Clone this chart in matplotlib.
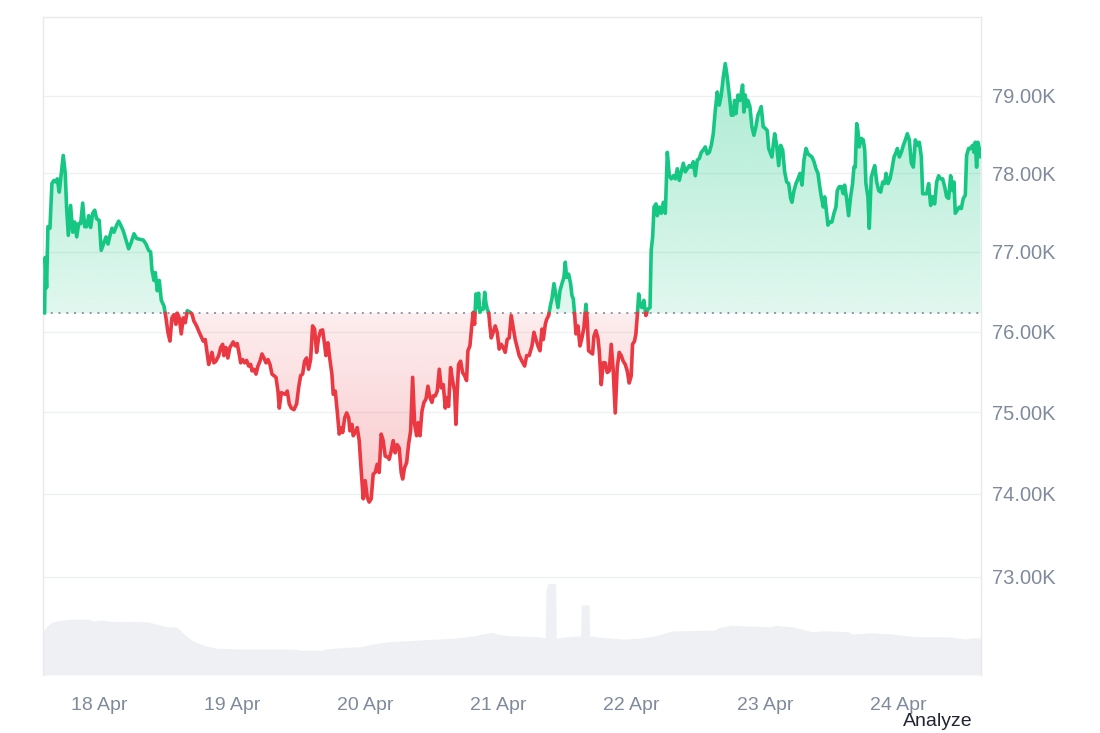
import numpy as np
import matplotlib
matplotlib.use("Agg")
import matplotlib.pyplot as plt
from matplotlib.path import Path
from matplotlib.ticker import FixedLocator, FuncFormatter, NullLocator
from matplotlib.colors import to_rgb

plt.rcParams['font.family'] = ['Liberation Sans', 'DejaVu Sans']

# ---------------- data ----------------
# time as fractional day of April, price in thousands USD
days = [
    17.592, 17.597, 17.607, 17.617, 17.632, 17.647, 17.662, 17.677, 17.687, 17.702,
    17.717, 17.732, 17.747, 17.757, 17.770, 17.787, 17.803, 17.818, 17.833, 17.848,
    17.863, 17.878, 17.893, 17.908, 17.923, 17.938, 17.953, 17.968, 17.983, 18.002,
    18.017, 18.038, 18.053, 18.068, 18.083, 18.098, 18.113, 18.133, 18.148, 18.163,
    18.182, 18.203, 18.223, 18.242, 18.263, 18.283, 18.308, 18.333, 18.353, 18.373,
    18.388, 18.398, 18.413, 18.423, 18.438, 18.453, 18.468, 18.488, 18.503, 18.518,
    18.533, 18.548, 18.563, 18.578, 18.588, 18.603, 18.618, 18.633, 18.648, 18.663,
    18.678, 18.698, 18.713, 18.733, 18.753,
    18.783, 18.798, 18.813, 18.824, 18.839, 18.848, 18.863, 18.878, 18.899, 18.914,
    18.929, 18.938, 18.953, 18.968, 18.983, 18.998, 19.008, 19.023, 19.038, 19.053,
    19.064, 19.079, 19.094, 19.109, 19.124, 19.139, 19.149, 19.164, 19.179, 19.194,
    19.209, 19.224, 19.239, 19.254, 19.269, 19.284, 19.299, 19.314, 19.329, 19.344,
    19.354, 19.369, 19.384, 19.399, 19.414, 19.429, 19.444, 19.464, 19.484, 19.499,
    19.514, 19.529, 19.544, 19.559, 19.574, 19.589, 19.604, 19.619, 19.634, 19.649,
    19.664, 19.679, 19.694, 19.704, 19.719, 19.734, 19.749, 19.759, 19.774, 19.789,
    19.804, 19.819, 19.830, 19.845, 19.860, 19.875, 19.884, 19.899, 19.909, 19.924,
    19.939, 19.954, 19.969, 19.984, 19.999, 20.014, 20.029, 20.044, 20.059, 20.074,
    20.089, 20.104, 20.119, 20.134, 20.149, 20.175,
    20.179, 20.194, 20.209, 20.224, 20.239, 20.254, 20.269, 20.280, 20.295, 20.310,
    20.325, 20.340, 20.355, 20.370, 20.385, 20.395, 20.410, 20.425, 20.440, 20.455,
    20.470, 20.485, 20.500, 20.510, 20.525, 20.540, 20.555, 20.570, 20.585, 20.600,
    20.610, 20.625, 20.640, 20.655, 20.670, 20.680, 20.690, 20.700, 20.715, 20.730,
    20.745, 20.760, 20.770, 20.785, 20.800, 20.810, 20.820, 20.830, 20.840, 20.850,
    20.860, 20.870, 20.885, 20.896, 20.905, 20.915, 20.926, 20.935, 20.945, 20.960,
    20.975, 20.990, 21.005, 21.020, 21.035, 21.050, 21.065, 21.080, 21.095, 21.110,
    21.125, 21.140, 21.155, 21.176, 21.196, 21.211, 21.230, 21.251, 21.266, 21.281,
    21.296, 21.311, 21.326, 21.336, 21.351, 21.361, 21.376, 21.391,
    21.401, 21.416, 21.431, 21.446, 21.461, 21.476, 21.491, 21.501, 21.511, 21.526,
    21.541, 21.551, 21.561, 21.571, 21.581, 21.596, 21.611, 21.626, 21.641, 21.656,
    21.666, 21.676, 21.691, 21.706, 21.716, 21.731, 21.746, 21.756, 21.771, 21.786,
    21.801, 21.816, 21.831, 21.846, 21.861, 21.876, 21.891, 21.906, 21.921, 21.936,
    21.951, 21.966, 21.981, 21.996, 22.006, 22.021, 22.031, 22.041, 22.052, 22.061,
    22.076, 22.091, 22.106, 22.121, 22.137, 22.146, 22.157, 22.167, 22.182, 22.192,
    22.207, 22.222, 22.237, 22.252, 22.267, 22.282, 22.297, 22.312, 22.327, 22.342,
    22.357, 22.372, 22.387, 22.402, 22.417, 22.432, 22.447, 22.462, 22.477, 22.492,
    22.507, 22.522, 22.537, 22.552, 22.567, 22.582, 22.597, 22.612, 22.627, 22.642,
    22.657, 22.672, 22.687, 22.702, 22.717, 22.737,
    22.747, 22.762, 22.772, 22.782, 22.797, 22.812, 22.822, 22.832, 22.842, 22.852,
    22.862, 22.872, 22.887, 22.902, 22.917, 22.932, 22.947, 22.962, 22.972, 22.987,
    23.002, 23.017, 23.028, 23.043, 23.052, 23.062, 23.073, 23.088, 23.103, 23.118,
    23.133, 23.148, 23.163, 23.178, 23.193, 23.203, 23.218, 23.233, 23.248, 23.263,
    23.278, 23.293, 23.308, 23.323, 23.338, 23.353, 23.368, 23.383, 23.398, 23.408,
    23.423, 23.438, 23.448, 23.458, 23.473, 23.488, 23.503, 23.518, 23.533, 23.543,
    23.558, 23.573, 23.588, 23.598, 23.613, 23.628, 23.643, 23.658, 23.668, 23.678,
    23.689, 23.698, 23.708, 23.723, 23.738, 23.749, 23.758, 23.773, 23.783, 23.798,
    23.813, 23.824, 23.839, 23.854, 23.869, 23.884, 23.899, 23.909, 23.924, 23.939,
    23.954, 23.969, 23.984, 23.994, 24.009, 24.024, 24.039, 24.054, 24.069, 24.084,
    24.099, 24.114, 24.129, 24.144, 24.159, 24.174, 24.184, 24.199, 24.214, 24.229,
    24.244, 24.259, 24.274, 24.289, 24.304, 24.319, 24.334, 24.349, 24.364, 24.379,
    24.394, 24.409, 24.419, 24.429, 24.444, 24.459, 24.474, 24.489, 24.504, 24.514,
    24.529, 24.544, 24.559, 24.569, 24.579, 24.589, 24.599, 24.609, 24.619,
]

price_k = [
    76.23, 76.93, 76.55, 77.32, 77.30, 77.87, 77.91, 77.89, 77.93, 77.76,
    78.00, 78.23, 78.00, 77.57, 77.21, 77.59, 77.25, 77.38, 77.19, 77.36,
    77.36, 77.62, 77.32, 77.32, 77.46, 77.31, 77.49, 77.53, 77.42, 77.40,
    77.02, 77.12, 77.19, 77.10, 77.21, 77.30, 77.25, 77.34, 77.39, 77.34,
    77.27, 77.15, 77.04, 77.12, 77.23, 77.17, 77.16, 77.15, 77.10, 77.02,
    77.00, 76.77, 76.64, 76.74, 76.51, 76.64, 76.39, 76.32, 76.17, 75.99,
    75.88, 76.17, 76.21, 76.09, 76.23, 76.17, 75.97, 76.17, 76.11, 76.26,
    76.25, 76.22, 76.13, 76.07, 75.99,
    75.88, 75.90, 75.72, 75.59, 75.67, 75.74, 75.61, 75.63, 75.70, 75.80,
    75.84, 75.70, 75.80, 75.67, 75.80, 75.84, 75.87, 75.82, 75.85, 75.72,
    75.61, 75.65, 75.61, 75.64, 75.57, 75.59, 75.51, 75.53, 75.47, 75.57,
    75.63, 75.72, 75.67, 75.61, 75.65, 75.59, 75.47, 75.45, 75.43, 75.26,
    75.05, 75.24, 75.23, 75.22, 75.26, 75.10, 75.05, 75.03, 75.10, 75.30,
    75.45, 75.47, 75.63, 75.67, 75.53, 75.65, 76.07, 76.03, 75.74, 75.92,
    76.01, 76.02, 75.84, 75.70, 75.86, 75.65, 75.47, 75.22, 75.26, 75.01,
    74.73, 74.81, 74.75, 74.93, 74.99, 74.93, 74.77, 74.85, 74.71, 74.75,
    74.81, 74.65, 74.28, 73.94, 74.16, 73.96, 73.90, 73.94, 74.24, 74.26,
    74.36, 74.26, 74.73, 74.65, 74.46, 74.44,
    74.42, 74.52, 74.65, 74.50, 74.60, 74.56, 74.26, 74.18, 74.32, 74.38,
    74.61, 74.77, 75.43, 74.85, 74.71, 74.87, 74.71, 75.01, 75.12, 75.16,
    75.32, 75.18, 75.12, 75.20, 75.20, 75.26, 75.53, 75.30, 75.34, 75.05,
    75.18, 75.07, 75.55, 75.39, 75.26, 74.85, 75.26, 75.59, 75.63, 75.49,
    75.45, 75.39, 75.76, 75.82, 76.09, 76.24, 76.09, 76.47, 76.30, 76.48,
    76.24, 76.28, 76.28, 76.49, 76.36, 76.28, 76.24, 76.07, 75.92, 75.99,
    76.07, 75.99, 75.78, 75.84, 75.80, 75.74, 75.90, 75.92, 76.20, 76.05,
    75.90, 75.80, 75.70, 75.63, 75.57, 75.70, 75.70, 75.82, 75.99, 75.90,
    75.82, 75.76, 76.03, 75.90, 76.09, 76.15, 76.20, 76.34,
    76.41, 76.60, 76.45, 76.30, 76.51, 76.60, 76.68, 76.87, 76.68, 76.72,
    76.60, 76.45, 76.41, 76.22, 75.97, 76.07, 75.82, 75.92, 76.05, 76.34,
    76.13, 75.76, 75.74, 75.72, 75.94, 76.01, 75.92, 75.76, 75.34, 75.61,
    75.61, 75.49, 75.51, 75.84, 75.51, 74.99, 75.55, 75.74, 75.70, 75.63,
    75.59, 75.51, 75.36, 75.45, 75.84, 75.88, 75.97, 76.17, 76.47, 76.34,
    76.30, 76.39, 76.20, 76.28, 76.30, 77.02, 77.19, 77.57, 77.61, 77.46,
    77.57, 77.49, 77.63, 77.49, 78.27, 77.97, 77.93, 77.97, 77.93, 78.06,
    77.91, 78.02, 78.13, 78.02, 78.06, 78.10, 78.08, 78.15, 77.97, 78.17,
    78.19, 78.27, 78.30, 78.34, 78.25, 78.27, 78.36, 78.51, 78.81, 79.05,
    78.88, 79.01, 79.24, 79.42, 79.24, 78.94,
    78.75, 78.75, 78.94, 78.77, 79.01, 78.94, 79.03, 79.14, 78.79, 79.01,
    78.86, 78.94, 78.86, 78.60, 78.49, 78.60, 78.75, 78.81, 78.86, 78.60,
    78.58, 78.55, 78.32, 78.25, 78.21, 78.36, 78.51, 78.36, 78.10, 78.36,
    78.30, 78.02, 77.89, 77.87, 77.68, 77.63, 77.78, 77.87, 77.93, 78.00,
    77.85, 78.17, 78.32, 78.25, 78.23, 78.21, 78.15, 78.06, 78.00, 77.87,
    77.70, 77.57, 77.70, 77.57, 77.34, 77.38, 77.38, 77.49, 77.57, 77.78,
    77.83, 77.83, 77.74, 77.85, 77.68, 77.46, 77.70, 77.87, 78.08, 78.08,
    78.64, 78.55, 78.34, 78.45, 78.43, 78.30, 77.87, 77.70, 77.30, 77.95,
    78.04, 78.10, 77.89, 77.78, 77.76, 77.89, 77.87, 78.00, 77.87, 77.93,
    78.06, 78.21, 78.27, 78.32, 78.21, 78.27, 78.36, 78.43, 78.51, 78.43,
    78.13, 78.08, 78.43, 78.36, 78.40, 78.21, 77.74, 77.74, 77.74, 77.87,
    77.59, 77.70, 77.61, 77.89, 77.97, 77.93, 77.93, 77.83, 77.70, 77.68,
    77.97, 77.78, 77.89, 77.49, 77.53, 77.57, 77.55, 77.68, 77.72, 78.23,
    78.32, 78.32, 78.36, 78.27, 78.40, 78.08, 78.40, 78.32, 78.21,
]

# 24h volume (billions USD, shown only as a faint area)
vol_days = [
    17.580, 17.607, 17.632, 17.682, 17.782, 17.932, 17.957, 18.020, 18.058, 18.083,
    18.358, 18.408, 18.458, 18.508, 18.583, 18.608, 18.646, 18.696, 18.745, 18.808,
    18.884, 19.059, 19.309, 19.484, 19.509, 19.684, 19.697, 19.809, 19.959, 20.059,
    20.172, 20.410, 20.660, 20.810, 20.911, 20.960, 20.986, 21.085, 21.298, 21.351,
    21.356, 21.371, 21.429, 21.433, 21.511, 21.616, 21.621, 21.679, 21.684, 21.799,
    21.936, 22.049, 22.174, 22.300, 22.625, 22.650, 22.750, 22.850, 23.050, 23.075,
    23.200, 23.276, 23.351, 23.450, 23.626, 23.651, 23.801, 23.951, 24.126, 24.376,
    24.502, 24.552, 24.627,
]
vol_b = [
    17.3, 19.3, 20.7, 21.7, 22.3, 22.3, 21.6, 22.0, 21.7, 21.5,
    21.3, 20.7, 20.0, 19.3, 19.1, 18.0, 16.0, 14.0, 12.7, 11.6,
    10.7, 10.4, 10.4, 10.3, 9.9, 9.9, 10.4, 10.9, 11.3, 12.4,
    13.3, 14.0, 14.7, 15.6, 16.7, 17.1, 16.4, 15.7, 15.3, 14.9,
    34.0, 36.7, 36.7, 14.7, 15.3, 15.7, 28.0, 28.0, 15.6, 14.9,
    14.4, 14.7, 15.6, 17.6, 18.0, 18.9, 20.0, 19.6, 19.3, 19.9,
    19.3, 18.4, 17.3, 17.7, 17.3, 16.4, 16.9, 16.4, 15.3, 15.3,
    14.4, 14.8, 14.8,
]

y_ticks = [73, 74, 75, 76, 77, 78, 79]
x_ticks = [18, 19, 20, 21, 22, 23, 24]
x_labels = ["18 Apr", "19 Apr", "20 Apr", "21 Apr", "22 Apr", "23 Apr", "24 Apr"]

assert len(days) == len(price_k)
assert len(vol_days) == len(vol_b)

# ---------------- style ----------------
GREEN = "#16c784"
RED = "#ea3943"
TEXT = "#808a9d"
GRID = "#eff0f2"
SPINE = "#e9eaec"
VOL = "#eef0f3"
XLIM = (17.580, 24.622)
YLIM = (71.83, 80.03)
POS = [43 / 1100, 1 - 675 / 733, (981 - 43) / 1100, (675 - 17) / 733]

fig = plt.figure(figsize=(11, 7.33), dpi=100)
fig.patch.set_facecolor("white")

# volume (background axes)
axv = fig.add_axes(POS)
axv.fill_between(vol_days, vol_b, 0, color=VOL, lw=0)
axv.set_xlim(*XLIM)
axv.set_ylim(0, 263.2)
axv.axis("off")

# price axes
ax = fig.add_axes(POS)
ax.patch.set_visible(False)
ax.set_yscale("log")

x = np.array(days)
y = np.array(price_k)
base = y[0]

# insert baseline crossings so the two colours meet exactly
xs, ys = [x[0]], [y[0]]
for i in range(1, len(x)):
    d0, d1 = y[i - 1] - base, y[i] - base
    if d0 * d1 < 0:
        t = d0 / (d0 - d1)
        xs.append(x[i - 1] + t * (x[i] - x[i - 1]))
        ys.append(base)
    xs.append(x[i])
    ys.append(y[i])
xs = np.array(xs)
ys = np.array(ys)
above = ys >= base
below = ys <= base

lo, hi = np.log(YLIM[0]), np.log(YLIM[1])


def frac(v):
    return (np.log(v) - lo) / (hi - lo)


def gradient_fill(mask, color, a_far, a_near, far_val):
    coll = ax.fill_between(xs, ys, base, where=mask, facecolor="none",
                           edgecolor="none", lw=0)
    path = Path.make_compound_path(*coll.get_paths())
    fb, ff = frac(base), frac(far_val)
    n = 256
    rgba = np.zeros((n, 1, 4))
    rgba[:, :, :3] = to_rgb(color)
    if ff > fb:
        rgba[:, 0, 3] = np.linspace(a_near, a_far, n)
        ext = [0, 1, fb, ff]
    else:
        rgba[:, 0, 3] = np.linspace(a_far, a_near, n)
        ext = [0, 1, ff, fb]
    im = ax.imshow(rgba, extent=ext, transform=ax.transAxes, origin="lower",
                   aspect="auto", interpolation="bilinear", zorder=1)
    im.set_clip_path(path, ax.transData)


gradient_fill(above, GREEN, 0.36, 0.13, ys.max())
gradient_fill(below, RED, 0.28, 0.09, ys.min())

ax.axhline(base, color="#8f95a1", lw=1.4, ls=(0, (1, 3)), zorder=2)

ax.plot(xs, np.where(above, ys, np.nan), color=GREEN, lw=2.6, zorder=4,
        solid_joinstyle="round", solid_capstyle="round")
ax.plot(xs, np.where(below, ys, np.nan), color=RED, lw=2.6, zorder=4,
        solid_joinstyle="round", solid_capstyle="round")

ax.set_xlim(*XLIM)
ax.set_ylim(*YLIM)

ax.yaxis.set_major_locator(FixedLocator(y_ticks))
ax.yaxis.set_minor_locator(NullLocator())
ax.yaxis.set_major_formatter(FuncFormatter(lambda v, p: f"{v:.2f}K"))
ax.yaxis.tick_right()
ax.set_xticks(x_ticks)
ax.set_xticklabels(x_labels)

ax.tick_params(axis="y", length=0, pad=8, labelsize=14.5, labelcolor=TEXT)
ax.tick_params(axis="x", length=0, pad=16, labelsize=14, labelcolor=TEXT)

ax.grid(axis="y", color=GRID, lw=1, zorder=0)
ax.grid(axis="x", visible=False)
ax.set_axisbelow(True)

for side in ("left", "top", "right"):
    ax.spines[side].set_color(SPINE)
    ax.spines[side].set_linewidth(1)
ax.spines["bottom"].set_visible(False)

fig.text(973 / 1100, 1 - 721 / 733, "Analyze", ha="right", va="center",
         fontsize=14, color="#222531")

fig.savefig("out.png", dpi=100, facecolor="white")
